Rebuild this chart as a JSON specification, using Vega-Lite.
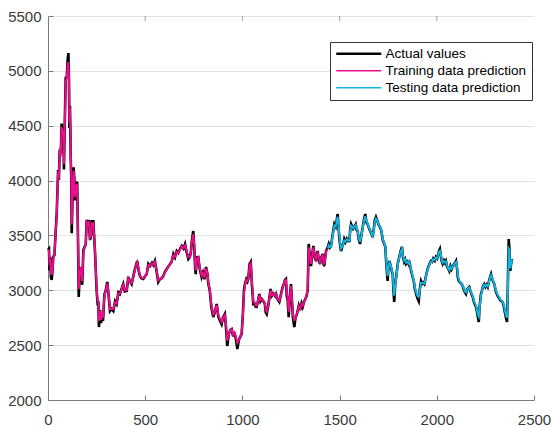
{
"$schema": "https://vega.github.io/schema/vega-lite/v6.json",
"width": 486, "height": 384,
"autosize": {"type": "none"},
"padding": {"left": 48, "top": 16, "right": 18, "bottom": 27},
"background": "white",
"config": {"view": {"stroke": null}, "font": "Liberation Sans",
  "axis": {"labelFont": "Liberation Sans", "labelFontSize": 15, "labelColor": "#3a3a3a", "domainColor": "#7a7a7a", "tickColor": "#7a7a7a", "domainWidth": 1, "tickWidth": 1, "title": null, "format": "d", "labelFlush": false}},
"data": {"values": [
{"x":0,"a":3370,"p":3370,"s":"Training data prediction"},
{"x":5,"a":3380,"p":3360,"s":"Training data prediction"},
{"x":8,"a":3180,"p":3230,"s":"Training data prediction"},
{"x":12,"a":3300,"p":3290,"s":"Training data prediction"},
{"x":15,"a":3120,"p":3160,"s":"Training data prediction"},
{"x":19,"a":3095,"p":3140,"s":"Training data prediction"},
{"x":24,"a":3200,"p":3200,"s":"Training data prediction"},
{"x":27,"a":3306,"p":3290,"s":"Training data prediction"},
{"x":33,"a":3320,"p":3320,"s":"Training data prediction"},
{"x":40,"a":3550,"p":3540,"s":"Training data prediction"},
{"x":45,"a":3704,"p":3700,"s":"Training data prediction"},
{"x":52,"a":4096,"p":4080,"s":"Training data prediction"},
{"x":56,"a":4005,"p":4020,"s":"Training data prediction"},
{"x":60,"a":4279,"p":4270,"s":"Training data prediction"},
{"x":66,"a":4250,"p":4250,"s":"Training data prediction"},
{"x":70,"a":4520,"p":4490,"s":"Training data prediction"},
{"x":75,"a":4440,"p":4440,"s":"Training data prediction"},
{"x":79,"a":4461,"p":4450,"s":"Training data prediction"},
{"x":82,"a":4100,"p":4150,"s":"Training data prediction"},
{"x":86,"a":4500,"p":4480,"s":"Training data prediction"},
{"x":91,"a":4935,"p":4900,"s":"Training data prediction"},
{"x":97,"a":4950,"p":4940,"s":"Training data prediction"},
{"x":101,"a":5100,"p":5050,"s":"Training data prediction"},
{"x":105,"a":5162,"p":5080,"s":"Training data prediction"},
{"x":108,"a":4900,"p":4920,"s":"Training data prediction"},
{"x":110,"a":4480,"p":4530,"s":"Training data prediction"},
{"x":113,"a":4680,"p":4660,"s":"Training data prediction"},
{"x":117,"a":4200,"p":4240,"s":"Training data prediction"},
{"x":120,"a":3990,"p":4020,"s":"Training data prediction"},
{"x":122,"a":3520,"p":3600,"s":"Training data prediction"},
{"x":127,"a":3900,"p":3880,"s":"Training data prediction"},
{"x":132,"a":4120,"p":4090,"s":"Training data prediction"},
{"x":136,"a":4000,"p":4000,"s":"Training data prediction"},
{"x":138,"a":3820,"p":3850,"s":"Training data prediction"},
{"x":144,"a":3950,"p":3940,"s":"Training data prediction"},
{"x":150,"a":3990,"p":3970,"s":"Training data prediction"},
{"x":153,"a":3622,"p":3650,"s":"Training data prediction"},
{"x":156,"a":3249,"p":3290,"s":"Training data prediction"},
{"x":158,"a":2940,"p":3010,"s":"Training data prediction"},
{"x":163,"a":3150,"p":3140,"s":"Training data prediction"},
{"x":170,"a":3212,"p":3210,"s":"Training data prediction"},
{"x":176,"a":3050,"p":3080,"s":"Training data prediction"},
{"x":182,"a":3367,"p":3350,"s":"Training data prediction"},
{"x":190,"a":3404,"p":3400,"s":"Training data prediction"},
{"x":194,"a":3413,"p":3410,"s":"Training data prediction"},
{"x":199,"a":3640,"p":3620,"s":"Training data prediction"},
{"x":205,"a":3600,"p":3600,"s":"Training data prediction"},
{"x":210,"a":3640,"p":3630,"s":"Training data prediction"},
{"x":216,"a":3458,"p":3480,"s":"Training data prediction"},
{"x":222,"a":3500,"p":3500,"s":"Training data prediction"},
{"x":225,"a":3640,"p":3620,"s":"Training data prediction"},
{"x":229,"a":3560,"p":3570,"s":"Training data prediction"},
{"x":233,"a":3640,"p":3620,"s":"Training data prediction"},
{"x":242,"a":3340,"p":3360,"s":"Training data prediction"},
{"x":250,"a":3003,"p":3020,"s":"Training data prediction"},
{"x":255,"a":2880,"p":2900,"s":"Training data prediction"},
{"x":259,"a":2884,"p":2890,"s":"Training data prediction"},
{"x":262,"a":2665,"p":2720,"s":"Training data prediction"},
{"x":268,"a":2820,"p":2810,"s":"Training data prediction"},
{"x":273,"a":2700,"p":2730,"s":"Training data prediction"},
{"x":278,"a":2800,"p":2800,"s":"Training data prediction"},
{"x":283,"a":2720,"p":2750,"s":"Training data prediction"},
{"x":290,"a":2960,"p":2950,"s":"Training data prediction"},
{"x":297,"a":3000,"p":3000,"s":"Training data prediction"},
{"x":305,"a":3076,"p":3060,"s":"Training data prediction"},
{"x":312,"a":2950,"p":2960,"s":"Training data prediction"},
{"x":319,"a":2811,"p":2830,"s":"Training data prediction"},
{"x":327,"a":2830,"p":2830,"s":"Training data prediction"},
{"x":336,"a":2811,"p":2830,"s":"Training data prediction"},
{"x":345,"a":2900,"p":2890,"s":"Training data prediction"},
{"x":353,"a":2875,"p":2880,"s":"Training data prediction"},
{"x":362,"a":2980,"p":2970,"s":"Training data prediction"},
{"x":370,"a":2966,"p":2970,"s":"Training data prediction"},
{"x":378,"a":3010,"p":3010,"s":"Training data prediction"},
{"x":387,"a":3057,"p":3050,"s":"Training data prediction"},
{"x":395,"a":2990,"p":3000,"s":"Training data prediction"},
{"x":405,"a":2994,"p":3000,"s":"Training data prediction"},
{"x":413,"a":3121,"p":3110,"s":"Training data prediction"},
{"x":422,"a":3080,"p":3080,"s":"Training data prediction"},
{"x":430,"a":3057,"p":3065,"s":"Training data prediction"},
{"x":438,"a":3120,"p":3115,"s":"Training data prediction"},
{"x":447,"a":3194,"p":3185,"s":"Training data prediction"},
{"x":453,"a":3230,"p":3225,"s":"Training data prediction"},
{"x":459,"a":3267,"p":3255,"s":"Training data prediction"},
{"x":466,"a":3180,"p":3190,"s":"Training data prediction"},
{"x":473,"a":3130,"p":3135,"s":"Training data prediction"},
{"x":480,"a":3110,"p":3115,"s":"Training data prediction"},
{"x":490,"a":3103,"p":3110,"s":"Training data prediction"},
{"x":500,"a":3130,"p":3130,"s":"Training data prediction"},
{"x":508,"a":3148,"p":3150,"s":"Training data prediction"},
{"x":516,"a":3240,"p":3230,"s":"Training data prediction"},
{"x":525,"a":3220,"p":3220,"s":"Training data prediction"},
{"x":535,"a":3250,"p":3245,"s":"Training data prediction"},
{"x":542,"a":3230,"p":3235,"s":"Training data prediction"},
{"x":550,"a":3267,"p":3260,"s":"Training data prediction"},
{"x":558,"a":3180,"p":3190,"s":"Training data prediction"},
{"x":567,"a":3076,"p":3090,"s":"Training data prediction"},
{"x":575,"a":3100,"p":3100,"s":"Training data prediction"},
{"x":585,"a":3110,"p":3110,"s":"Training data prediction"},
{"x":593,"a":3130,"p":3130,"s":"Training data prediction"},
{"x":602,"a":3170,"p":3165,"s":"Training data prediction"},
{"x":611,"a":3194,"p":3190,"s":"Training data prediction"},
{"x":620,"a":3220,"p":3220,"s":"Training data prediction"},
{"x":628,"a":3240,"p":3240,"s":"Training data prediction"},
{"x":636,"a":3260,"p":3260,"s":"Training data prediction"},
{"x":645,"a":3331,"p":3320,"s":"Training data prediction"},
{"x":653,"a":3300,"p":3305,"s":"Training data prediction"},
{"x":662,"a":3358,"p":3350,"s":"Training data prediction"},
{"x":670,"a":3340,"p":3340,"s":"Training data prediction"},
{"x":680,"a":3380,"p":3375,"s":"Training data prediction"},
{"x":688,"a":3404,"p":3400,"s":"Training data prediction"},
{"x":697,"a":3380,"p":3385,"s":"Training data prediction"},
{"x":705,"a":3422,"p":3410,"s":"Training data prediction"},
{"x":713,"a":3350,"p":3360,"s":"Training data prediction"},
{"x":722,"a":3285,"p":3300,"s":"Training data prediction"},
{"x":728,"a":3300,"p":3300,"s":"Training data prediction"},
{"x":734,"a":3331,"p":3325,"s":"Training data prediction"},
{"x":740,"a":3450,"p":3440,"s":"Training data prediction"},
{"x":747,"a":3540,"p":3510,"s":"Training data prediction"},
{"x":752,"a":3400,"p":3420,"s":"Training data prediction"},
{"x":757,"a":3200,"p":3230,"s":"Training data prediction"},
{"x":760,"a":3148,"p":3180,"s":"Training data prediction"},
{"x":766,"a":3300,"p":3290,"s":"Training data prediction"},
{"x":773,"a":3303,"p":3300,"s":"Training data prediction"},
{"x":780,"a":3200,"p":3210,"s":"Training data prediction"},
{"x":790,"a":3121,"p":3135,"s":"Training data prediction"},
{"x":797,"a":3160,"p":3160,"s":"Training data prediction"},
{"x":805,"a":3100,"p":3110,"s":"Training data prediction"},
{"x":813,"a":3212,"p":3200,"s":"Training data prediction"},
{"x":820,"a":3150,"p":3160,"s":"Training data prediction"},
{"x":825,"a":3057,"p":3070,"s":"Training data prediction"},
{"x":832,"a":3000,"p":3010,"s":"Training data prediction"},
{"x":840,"a":2850,"p":2870,"s":"Training data prediction"},
{"x":850,"a":2756,"p":2780,"s":"Training data prediction"},
{"x":858,"a":2800,"p":2800,"s":"Training data prediction"},
{"x":868,"a":2875,"p":2865,"s":"Training data prediction"},
{"x":876,"a":2760,"p":2775,"s":"Training data prediction"},
{"x":885,"a":2720,"p":2740,"s":"Training data prediction"},
{"x":893,"a":2690,"p":2710,"s":"Training data prediction"},
{"x":900,"a":2750,"p":2745,"s":"Training data prediction"},
{"x":910,"a":2784,"p":2775,"s":"Training data prediction"},
{"x":916,"a":2650,"p":2680,"s":"Training data prediction"},
{"x":922,"a":2492,"p":2540,"s":"Training data prediction"},
{"x":930,"a":2600,"p":2600,"s":"Training data prediction"},
{"x":938,"a":2640,"p":2635,"s":"Training data prediction"},
{"x":945,"a":2647,"p":2645,"s":"Training data prediction"},
{"x":952,"a":2580,"p":2595,"s":"Training data prediction"},
{"x":958,"a":2620,"p":2615,"s":"Training data prediction"},
{"x":966,"a":2560,"p":2580,"s":"Training data prediction"},
{"x":974,"a":2465,"p":2520,"s":"Training data prediction"},
{"x":982,"a":2550,"p":2550,"s":"Training data prediction"},
{"x":990,"a":2580,"p":2580,"s":"Training data prediction"},
{"x":996,"a":2601,"p":2610,"s":"Training data prediction"},
{"x":1003,"a":2800,"p":2780,"s":"Training data prediction"},
{"x":1008,"a":3000,"p":2970,"s":"Training data prediction"},
{"x":1013,"a":3057,"p":3040,"s":"Training data prediction"},
{"x":1020,"a":3100,"p":3095,"s":"Training data prediction"},
{"x":1026,"a":3080,"p":3085,"s":"Training data prediction"},
{"x":1030,"a":3103,"p":3100,"s":"Training data prediction"},
{"x":1037,"a":3240,"p":3225,"s":"Training data prediction"},
{"x":1043,"a":3258,"p":3245,"s":"Training data prediction"},
{"x":1049,"a":3050,"p":3080,"s":"Training data prediction"},
{"x":1056,"a":2875,"p":2900,"s":"Training data prediction"},
{"x":1063,"a":2880,"p":2885,"s":"Training data prediction"},
{"x":1068,"a":2850,"p":2865,"s":"Training data prediction"},
{"x":1073,"a":2848,"p":2860,"s":"Training data prediction"},
{"x":1080,"a":2900,"p":2900,"s":"Training data prediction"},
{"x":1087,"a":2966,"p":2955,"s":"Training data prediction"},
{"x":1093,"a":2900,"p":2910,"s":"Training data prediction"},
{"x":1100,"a":2920,"p":2920,"s":"Training data prediction"},
{"x":1107,"a":2902,"p":2905,"s":"Training data prediction"},
{"x":1115,"a":2880,"p":2885,"s":"Training data prediction"},
{"x":1120,"a":2800,"p":2820,"s":"Training data prediction"},
{"x":1125,"a":2784,"p":2805,"s":"Training data prediction"},
{"x":1132,"a":2850,"p":2845,"s":"Training data prediction"},
{"x":1138,"a":2920,"p":2915,"s":"Training data prediction"},
{"x":1145,"a":3012,"p":3000,"s":"Training data prediction"},
{"x":1152,"a":2950,"p":2955,"s":"Training data prediction"},
{"x":1160,"a":2970,"p":2970,"s":"Training data prediction"},
{"x":1168,"a":2948,"p":2950,"s":"Training data prediction"},
{"x":1173,"a":2966,"p":2965,"s":"Training data prediction"},
{"x":1180,"a":2920,"p":2925,"s":"Training data prediction"},
{"x":1190,"a":2893,"p":2905,"s":"Training data prediction"},
{"x":1198,"a":2960,"p":2955,"s":"Training data prediction"},
{"x":1207,"a":3030,"p":3025,"s":"Training data prediction"},
{"x":1214,"a":3060,"p":3055,"s":"Training data prediction"},
{"x":1219,"a":3094,"p":3090,"s":"Training data prediction"},
{"x":1224,"a":3103,"p":3095,"s":"Training data prediction"},
{"x":1228,"a":2950,"p":2980,"s":"Training data prediction"},
{"x":1233,"a":2911,"p":2930,"s":"Training data prediction"},
{"x":1238,"a":2756,"p":2800,"s":"Training data prediction"},
{"x":1244,"a":2950,"p":2940,"s":"Training data prediction"},
{"x":1250,"a":3057,"p":3040,"s":"Training data prediction"},
{"x":1255,"a":2900,"p":2920,"s":"Training data prediction"},
{"x":1260,"a":2750,"p":2780,"s":"Training data prediction"},
{"x":1267,"a":2665,"p":2720,"s":"Training data prediction"},
{"x":1274,"a":2760,"p":2760,"s":"Training data prediction"},
{"x":1280,"a":2780,"p":2785,"s":"Training data prediction"},
{"x":1284,"a":2811,"p":2810,"s":"Training data prediction"},
{"x":1290,"a":2860,"p":2855,"s":"Training data prediction"},
{"x":1297,"a":2820,"p":2830,"s":"Training data prediction"},
{"x":1304,"a":2880,"p":2875,"s":"Training data prediction"},
{"x":1310,"a":2848,"p":2860,"s":"Training data prediction"},
{"x":1318,"a":2900,"p":2895,"s":"Training data prediction"},
{"x":1324,"a":2920,"p":2920,"s":"Training data prediction"},
{"x":1330,"a":2948,"p":2950,"s":"Training data prediction"},
{"x":1336,"a":3000,"p":3010,"s":"Training data prediction"},
{"x":1341,"a":3422,"p":3390,"s":"Training data prediction"},
{"x":1347,"a":3300,"p":3310,"s":"Training data prediction"},
{"x":1353,"a":3221,"p":3240,"s":"Training data prediction"},
{"x":1359,"a":3330,"p":3320,"s":"Training data prediction"},
{"x":1365,"a":3404,"p":3390,"s":"Training data prediction"},
{"x":1372,"a":3300,"p":3310,"s":"Training data prediction"},
{"x":1379,"a":3267,"p":3280,"s":"Training data prediction"},
{"x":1383,"a":3330,"p":3325,"s":"Training data prediction"},
{"x":1387,"a":3358,"p":3350,"s":"Training data prediction"},
{"x":1393,"a":3280,"p":3290,"s":"Training data prediction"},
{"x":1399,"a":3240,"p":3255,"s":"Training data prediction"},
{"x":1406,"a":3300,"p":3295,"s":"Training data prediction"},
{"x":1413,"a":3331,"p":3325,"s":"Training data prediction"},
{"x":1417,"a":3240,"p":3255,"s":"Training data prediction"},
{"x":1421,"a":3221,"p":3235,"s":"Training data prediction"},
{"x":1426,"a":3300,"p":3295,"s":"Training data prediction"},
{"x":1430,"a":3358,"p":3350,"s":"Training data prediction"},
{"x":1436,"a":3380,"p":3375,"s":"Training data prediction"},
{"x":1440,"a":3400,"p":3380,"s":"Testing data prediction"},
{"x":1444,"a":3422,"p":3410,"s":"Testing data prediction"},
{"x":1450,"a":3390,"p":3395,"s":"Testing data prediction"},
{"x":1456,"a":3404,"p":3400,"s":"Testing data prediction"},
{"x":1462,"a":3480,"p":3470,"s":"Testing data prediction"},
{"x":1468,"a":3550,"p":3540,"s":"Testing data prediction"},
{"x":1473,"a":3604,"p":3590,"s":"Testing data prediction"},
{"x":1480,"a":3580,"p":3580,"s":"Testing data prediction"},
{"x":1486,"a":3650,"p":3640,"s":"Testing data prediction"},
{"x":1490,"a":3695,"p":3670,"s":"Testing data prediction"},
{"x":1495,"a":3560,"p":3580,"s":"Testing data prediction"},
{"x":1500,"a":3450,"p":3470,"s":"Testing data prediction"},
{"x":1507,"a":3358,"p":3380,"s":"Testing data prediction"},
{"x":1514,"a":3400,"p":3400,"s":"Testing data prediction"},
{"x":1520,"a":3430,"p":3425,"s":"Testing data prediction"},
{"x":1524,"a":3467,"p":3455,"s":"Testing data prediction"},
{"x":1530,"a":3440,"p":3445,"s":"Testing data prediction"},
{"x":1537,"a":3470,"p":3465,"s":"Testing data prediction"},
{"x":1543,"a":3450,"p":3455,"s":"Testing data prediction"},
{"x":1550,"a":3449,"p":3450,"s":"Testing data prediction"},
{"x":1555,"a":3560,"p":3545,"s":"Testing data prediction"},
{"x":1559,"a":3604,"p":3590,"s":"Testing data prediction"},
{"x":1565,"a":3580,"p":3580,"s":"Testing data prediction"},
{"x":1570,"a":3560,"p":3565,"s":"Testing data prediction"},
{"x":1576,"a":3577,"p":3575,"s":"Testing data prediction"},
{"x":1583,"a":3600,"p":3595,"s":"Testing data prediction"},
{"x":1588,"a":3550,"p":3560,"s":"Testing data prediction"},
{"x":1593,"a":3540,"p":3545,"s":"Testing data prediction"},
{"x":1598,"a":3470,"p":3485,"s":"Testing data prediction"},
{"x":1605,"a":3422,"p":3440,"s":"Testing data prediction"},
{"x":1612,"a":3500,"p":3495,"s":"Testing data prediction"},
{"x":1619,"a":3577,"p":3570,"s":"Testing data prediction"},
{"x":1625,"a":3640,"p":3630,"s":"Testing data prediction"},
{"x":1632,"a":3695,"p":3675,"s":"Testing data prediction"},
{"x":1638,"a":3620,"p":3630,"s":"Testing data prediction"},
{"x":1645,"a":3600,"p":3605,"s":"Testing data prediction"},
{"x":1653,"a":3558,"p":3565,"s":"Testing data prediction"},
{"x":1660,"a":3530,"p":3535,"s":"Testing data prediction"},
{"x":1665,"a":3510,"p":3515,"s":"Testing data prediction"},
{"x":1670,"a":3486,"p":3495,"s":"Testing data prediction"},
{"x":1676,"a":3560,"p":3550,"s":"Testing data prediction"},
{"x":1681,"a":3640,"p":3625,"s":"Testing data prediction"},
{"x":1687,"a":3668,"p":3655,"s":"Testing data prediction"},
{"x":1693,"a":3640,"p":3640,"s":"Testing data prediction"},
{"x":1700,"a":3600,"p":3605,"s":"Testing data prediction"},
{"x":1708,"a":3577,"p":3580,"s":"Testing data prediction"},
{"x":1715,"a":3540,"p":3545,"s":"Testing data prediction"},
{"x":1722,"a":3460,"p":3470,"s":"Testing data prediction"},
{"x":1730,"a":3422,"p":3430,"s":"Testing data prediction"},
{"x":1735,"a":3400,"p":3405,"s":"Testing data prediction"},
{"x":1740,"a":3250,"p":3270,"s":"Testing data prediction"},
{"x":1744,"a":3150,"p":3175,"s":"Testing data prediction"},
{"x":1747,"a":3085,"p":3130,"s":"Testing data prediction"},
{"x":1751,"a":3200,"p":3195,"s":"Testing data prediction"},
{"x":1756,"a":3267,"p":3255,"s":"Testing data prediction"},
{"x":1762,"a":3230,"p":3235,"s":"Testing data prediction"},
{"x":1768,"a":3180,"p":3190,"s":"Testing data prediction"},
{"x":1773,"a":3148,"p":3160,"s":"Testing data prediction"},
{"x":1777,"a":3000,"p":3030,"s":"Testing data prediction"},
{"x":1781,"a":2893,"p":2950,"s":"Testing data prediction"},
{"x":1786,"a":3050,"p":3040,"s":"Testing data prediction"},
{"x":1793,"a":3150,"p":3140,"s":"Testing data prediction"},
{"x":1799,"a":3240,"p":3230,"s":"Testing data prediction"},
{"x":1805,"a":3290,"p":3285,"s":"Testing data prediction"},
{"x":1812,"a":3340,"p":3335,"s":"Testing data prediction"},
{"x":1816,"a":3370,"p":3360,"s":"Testing data prediction"},
{"x":1821,"a":3395,"p":3380,"s":"Testing data prediction"},
{"x":1826,"a":3300,"p":3315,"s":"Testing data prediction"},
{"x":1832,"a":3260,"p":3270,"s":"Testing data prediction"},
{"x":1837,"a":3280,"p":3280,"s":"Testing data prediction"},
{"x":1842,"a":3240,"p":3250,"s":"Testing data prediction"},
{"x":1850,"a":3260,"p":3258,"s":"Testing data prediction"},
{"x":1855,"a":3240,"p":3245,"s":"Testing data prediction"},
{"x":1859,"a":3267,"p":3262,"s":"Testing data prediction"},
{"x":1864,"a":3210,"p":3220,"s":"Testing data prediction"},
{"x":1870,"a":3160,"p":3170,"s":"Testing data prediction"},
{"x":1876,"a":3121,"p":3130,"s":"Testing data prediction"},
{"x":1882,"a":3080,"p":3090,"s":"Testing data prediction"},
{"x":1886,"a":3020,"p":3035,"s":"Testing data prediction"},
{"x":1890,"a":2994,"p":3005,"s":"Testing data prediction"},
{"x":1895,"a":2960,"p":2975,"s":"Testing data prediction"},
{"x":1900,"a":2930,"p":2950,"s":"Testing data prediction"},
{"x":1907,"a":2902,"p":2940,"s":"Testing data prediction"},
{"x":1912,"a":3000,"p":2995,"s":"Testing data prediction"},
{"x":1919,"a":3085,"p":3070,"s":"Testing data prediction"},
{"x":1925,"a":3060,"p":3065,"s":"Testing data prediction"},
{"x":1930,"a":3070,"p":3068,"s":"Testing data prediction"},
{"x":1936,"a":3057,"p":3062,"s":"Testing data prediction"},
{"x":1942,"a":3110,"p":3105,"s":"Testing data prediction"},
{"x":1948,"a":3160,"p":3155,"s":"Testing data prediction"},
{"x":1953,"a":3194,"p":3188,"s":"Testing data prediction"},
{"x":1960,"a":3230,"p":3225,"s":"Testing data prediction"},
{"x":1965,"a":3250,"p":3248,"s":"Testing data prediction"},
{"x":1970,"a":3267,"p":3262,"s":"Testing data prediction"},
{"x":1976,"a":3260,"p":3262,"s":"Testing data prediction"},
{"x":1982,"a":3290,"p":3285,"s":"Testing data prediction"},
{"x":1990,"a":3270,"p":3275,"s":"Testing data prediction"},
{"x":1996,"a":3303,"p":3298,"s":"Testing data prediction"},
{"x":2002,"a":3290,"p":3292,"s":"Testing data prediction"},
{"x":2008,"a":3330,"p":3325,"s":"Testing data prediction"},
{"x":2012,"a":3360,"p":3350,"s":"Testing data prediction"},
{"x":2016,"a":3376,"p":3360,"s":"Testing data prediction"},
{"x":2022,"a":3300,"p":3315,"s":"Testing data prediction"},
{"x":2026,"a":3260,"p":3275,"s":"Testing data prediction"},
{"x":2030,"a":3240,"p":3250,"s":"Testing data prediction"},
{"x":2037,"a":3270,"p":3265,"s":"Testing data prediction"},
{"x":2042,"a":3250,"p":3255,"s":"Testing data prediction"},
{"x":2047,"a":3267,"p":3262,"s":"Testing data prediction"},
{"x":2052,"a":3220,"p":3230,"s":"Testing data prediction"},
{"x":2058,"a":3200,"p":3205,"s":"Testing data prediction"},
{"x":2064,"a":3176,"p":3185,"s":"Testing data prediction"},
{"x":2070,"a":3220,"p":3215,"s":"Testing data prediction"},
{"x":2076,"a":3190,"p":3195,"s":"Testing data prediction"},
{"x":2082,"a":3212,"p":3210,"s":"Testing data prediction"},
{"x":2088,"a":3240,"p":3235,"s":"Testing data prediction"},
{"x":2094,"a":3250,"p":3248,"s":"Testing data prediction"},
{"x":2099,"a":3267,"p":3258,"s":"Testing data prediction"},
{"x":2104,"a":3200,"p":3215,"s":"Testing data prediction"},
{"x":2108,"a":3120,"p":3140,"s":"Testing data prediction"},
{"x":2113,"a":3085,"p":3100,"s":"Testing data prediction"},
{"x":2120,"a":3070,"p":3075,"s":"Testing data prediction"},
{"x":2127,"a":3060,"p":3062,"s":"Testing data prediction"},
{"x":2133,"a":3039,"p":3045,"s":"Testing data prediction"},
{"x":2140,"a":3000,"p":3010,"s":"Testing data prediction"},
{"x":2145,"a":2980,"p":2990,"s":"Testing data prediction"},
{"x":2150,"a":2966,"p":2980,"s":"Testing data prediction"},
{"x":2156,"a":3010,"p":3005,"s":"Testing data prediction"},
{"x":2161,"a":3020,"p":3018,"s":"Testing data prediction"},
{"x":2167,"a":3030,"p":3025,"s":"Testing data prediction"},
{"x":2173,"a":2990,"p":2998,"s":"Testing data prediction"},
{"x":2180,"a":2960,"p":2968,"s":"Testing data prediction"},
{"x":2185,"a":2939,"p":2948,"s":"Testing data prediction"},
{"x":2190,"a":2900,"p":2912,"s":"Testing data prediction"},
{"x":2196,"a":2870,"p":2882,"s":"Testing data prediction"},
{"x":2202,"a":2848,"p":2860,"s":"Testing data prediction"},
{"x":2207,"a":2800,"p":2815,"s":"Testing data prediction"},
{"x":2212,"a":2750,"p":2775,"s":"Testing data prediction"},
{"x":2216,"a":2711,"p":2760,"s":"Testing data prediction"},
{"x":2220,"a":2850,"p":2840,"s":"Testing data prediction"},
{"x":2227,"a":2966,"p":2950,"s":"Testing data prediction"},
{"x":2233,"a":3000,"p":2995,"s":"Testing data prediction"},
{"x":2238,"a":3040,"p":3035,"s":"Testing data prediction"},
{"x":2244,"a":3057,"p":3050,"s":"Testing data prediction"},
{"x":2250,"a":3030,"p":3035,"s":"Testing data prediction"},
{"x":2256,"a":3050,"p":3048,"s":"Testing data prediction"},
{"x":2262,"a":3030,"p":3035,"s":"Testing data prediction"},
{"x":2268,"a":3080,"p":3075,"s":"Testing data prediction"},
{"x":2274,"a":3120,"p":3115,"s":"Testing data prediction"},
{"x":2279,"a":3148,"p":3138,"s":"Testing data prediction"},
{"x":2284,"a":3110,"p":3118,"s":"Testing data prediction"},
{"x":2290,"a":3080,"p":3088,"s":"Testing data prediction"},
{"x":2296,"a":3057,"p":3062,"s":"Testing data prediction"},
{"x":2302,"a":3000,"p":3012,"s":"Testing data prediction"},
{"x":2308,"a":2970,"p":2980,"s":"Testing data prediction"},
{"x":2313,"a":2948,"p":2958,"s":"Testing data prediction"},
{"x":2320,"a":2930,"p":2938,"s":"Testing data prediction"},
{"x":2326,"a":2910,"p":2918,"s":"Testing data prediction"},
{"x":2333,"a":2900,"p":2905,"s":"Testing data prediction"},
{"x":2339,"a":2893,"p":2898,"s":"Testing data prediction"},
{"x":2345,"a":2850,"p":2862,"s":"Testing data prediction"},
{"x":2350,"a":2800,"p":2815,"s":"Testing data prediction"},
{"x":2356,"a":2750,"p":2770,"s":"Testing data prediction"},
{"x":2361,"a":2711,"p":2750,"s":"Testing data prediction"},
{"x":2364,"a":2900,"p":2860,"s":"Testing data prediction"},
{"x":2367,"a":3200,"p":3120,"s":"Testing data prediction"},
{"x":2370,"a":3467,"p":3380,"s":"Testing data prediction"},
{"x":2373,"a":3390,"p":3370,"s":"Testing data prediction"},
{"x":2378,"a":3176,"p":3200,"s":"Testing data prediction"},
{"x":2382,"a":3240,"p":3235,"s":"Testing data prediction"},
{"x":2387,"a":3285,"p":3280,"s":"Testing data prediction"}
]},
"encoding": {
  "x": {"field": "x", "type": "quantitative", "scale": {"domain": [0, 2500], "nice": false}, "axis": {"orient": "bottom", "values": [0,500,1000,1500,2000,2500], "grid": false, "tickSize": -5, "labelPadding": 17}},
  "y": {"type": "quantitative", "scale": {"domain": [2000, 5500], "nice": false, "zero": false}, "axis": {"orient": "left", "values": [2000,2500,3000,3500,4000,4500,5000,5500], "grid": true, "gridColor": "#e2e2e2", "tickSize": -5, "labelPadding": 12}}
},
"layer": [
 {"mark": {"type": "line", "strokeWidth": 2.6, "color": "black"},
  "encoding": {
   "y": {"field": "a"},
   "color": {"datum": "Actual values", "type": "nominal",
     "scale": {"domain": ["Actual values", "Training data prediction", "Testing data prediction"], "range": ["#000000", "#EC0C8C", "#12B4E2"]},
     "legend": {"orient": "none", "legendX": 282, "legendY": 26, "title": null, "fillColor": "white", "strokeColor": "#333333", "padding": 5, "symbolType": "stroke", "symbolSize": 2025, "symbolStrokeWidth": 1.3, "symbolOffset": 17, "labelFontSize": 13.5, "labelColor": "black", "labelFont": "Liberation Sans", "labelOffset": 20, "rowPadding": 2,
       "encode": {"symbols": {"update": {"strokeWidth": {"signal": "datum.value === 'Actual values' ? 2.6 : 1.3"}}}}}}
  }},
 {"mark": {"type": "line", "strokeWidth": 2},
  "encoding": {
   "y": {"field": "p"},
   "color": {"field": "s", "type": "nominal", "legend": {"title": null}}
  }},
 {"mark": {"type": "rect", "filled": false, "stroke": "#7a7a7a", "strokeWidth": 1},
  "data": {"values": [{"frame": "box"}]},
  "encoding": {"x": {"datum": 0}, "x2": {"datum": 2500}, "y": {"datum": 2000}, "y2": {"datum": 5500}}},
 {"mark": {"type": "tick", "color": "#7a7a7a", "orient": "vertical", "size": 5, "thickness": 1, "yOffset": 2.5},
  "data": {"values": [{"t": 500}, {"t": 1000}, {"t": 1500}, {"t": 2000}]},
  "encoding": {"x": {"field": "t", "type": "quantitative"}, "y": {"datum": 5500}}},
 {"mark": {"type": "tick", "color": "#7a7a7a", "orient": "horizontal", "size": 5, "thickness": 1, "xOffset": -2.5},
  "data": {"values": [{"v": 2500}, {"v": 3000}, {"v": 3500}, {"v": 4000}, {"v": 4500}, {"v": 5000}]},
  "encoding": {"y": {"field": "v", "type": "quantitative"}, "x": {"datum": 2500}}}
]
}
